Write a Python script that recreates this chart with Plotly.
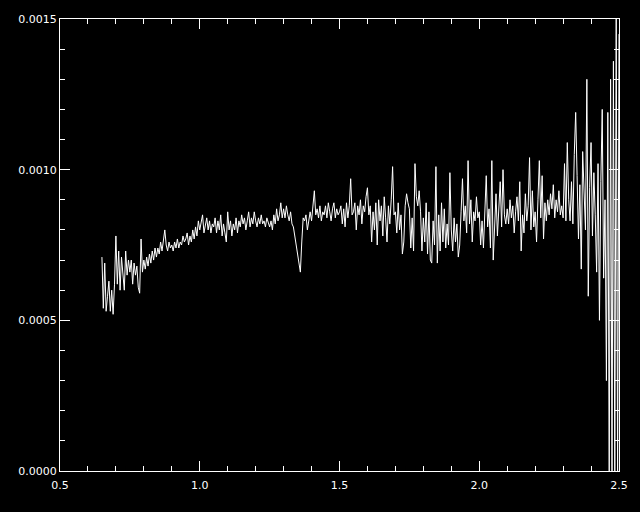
import plotly.graph_objects as go

# Wavelength grid (regularly sampled spectrum): start and step
WAVE_START = 0.65
WAVE_STEP = 0.005
FLUX_UNIT = 1e-4

# Flux values, in units of 1e-4
flux_e4 = [
    # 0.650-0.695
    7.1, 5.4, 6.9, 5.3, 5.8, 6.3, 5.3, 6.0, 5.2, 6.2,
    # 0.700
    7.8, 6.2, 7.3, 6.0, 7.1, 6.4, 6.0, 7.3, 6.5, 7.0,
    # 0.750
    6.6, 7.0, 6.2, 6.9, 6.5, 6.8, 6.1, 5.9, 7.7, 6.6,
    # 0.800
    7.0, 6.7, 7.1, 6.8, 7.2, 6.9, 7.3, 7.0, 7.4, 7.1,
    # 0.850
    7.4, 7.2, 7.6, 7.3, 7.7, 8.0, 7.5, 7.3, 7.6, 7.4,
    # 0.900
    7.5, 7.3, 7.6, 7.4, 7.7, 7.4, 7.6, 7.5, 7.8, 7.6,
    # 0.950
    7.7, 7.9, 7.5, 7.8, 7.6, 8.0, 7.7, 8.1, 7.8, 8.3,
    # 1.000
    8.0, 8.3, 8.5, 7.9, 8.2, 8.4, 8.0, 8.3, 7.9, 8.2,
    # 1.050
    8.1, 8.4, 7.9, 8.3, 8.0, 8.5, 7.8, 8.2, 7.9, 7.6,
    # 1.100
    8.6, 8.0, 8.3, 7.8, 8.2, 8.0, 8.4, 7.9, 8.3, 8.1,
    # 1.150
    8.5, 8.2, 8.4, 8.0, 8.3, 8.6, 8.1, 8.4, 8.2, 8.6,
    # 1.200
    8.3, 8.1, 8.4, 8.2, 8.5, 8.2, 8.3, 8.1, 8.4, 8.2,
    # 1.250
    8.1, 8.3, 8.0, 8.5, 8.2, 8.7, 8.3, 8.5, 8.9, 8.4,
    # 1.300
    8.7, 8.4, 8.8, 8.5, 8.3, 8.6, 8.2, 8.1, 7.8, 7.5,
    # 1.350
    7.3, 7.0, 6.6, 7.6, 8.4, 8.3, 8.5, 8.0, 8.4, 8.6,
    # 1.400
    8.3, 8.7, 9.3, 8.5, 8.7, 8.4, 8.8, 8.3, 8.6, 8.5,
    # 1.450
    8.8, 8.4, 8.9, 8.6, 8.3, 8.7, 8.9, 8.4, 8.7, 8.5,
    # 1.500
    8.6, 8.8, 8.2, 8.7, 8.1, 8.9, 8.4, 8.8, 9.7, 8.5,
    # 1.550
    8.6, 8.9, 8.0, 8.8, 8.5, 9.0, 8.2, 8.8, 8.6, 9.1,
    # 1.600
    9.4, 8.5, 8.8, 7.6, 8.6, 8.0, 8.9, 7.5, 9.0, 8.3,
    # 1.650
    8.8, 7.8, 9.1, 8.4, 7.6, 8.8, 8.2, 9.0, 10.1, 8.5,
    # 1.700
    8.6, 7.9, 8.9, 8.0, 8.5, 7.2, 7.6, 8.8, 9.2, 8.9,
    # 1.750
    8.7, 7.4, 8.4, 7.3, 10.2, 9.1, 8.8, 9.3, 8.6, 7.3,
    # 1.800
    8.4, 7.6, 8.9, 7.2, 8.6, 7.0, 6.9, 8.3, 7.5, 10.1,
    # 1.850
    6.9, 8.5, 7.3, 8.9, 7.6, 8.7, 7.4, 8.2, 7.5, 9.9,
    # 1.900
    8.0, 7.3, 8.4, 7.6, 8.2, 7.1, 7.5, 8.6, 9.7, 8.3,
    # 1.950
    8.8, 7.9, 10.3, 8.2, 9.0, 7.6, 8.6, 8.3, 9.1, 8.4,
    # 2.000
    8.6, 7.5, 8.3, 7.4, 9.0, 9.8, 8.1, 8.7, 7.4, 10.3,
    # 2.050
    7.0, 8.4, 9.2, 7.8, 8.9, 9.6, 8.1, 10.0, 8.5, 8.2,
    # 2.100
    8.7, 8.2, 9.0, 8.4, 8.8, 7.9, 8.6, 9.1, 8.3, 9.6,
    # 2.150
    7.3, 8.5, 7.9, 9.2, 8.3, 8.8, 10.4, 8.0, 9.3, 8.1,
    # 2.200
    8.6, 7.6, 9.0, 10.3, 8.4, 9.8, 7.7, 8.9, 8.3, 9.0,
    # 2.250
    8.5, 9.2, 8.7, 9.5, 8.4, 9.0, 8.6, 9.3, 8.5, 8.8,
    # 2.300
    8.4, 10.2, 8.3, 10.9, 9.0, 8.3, 9.6, 8.2, 10.5, 11.9,
    # 2.350
    9.8, 7.7, 9.5, 6.7, 10.6, 9.2, 8.0, 13.0, 5.8, 9.4,
    # 2.400
    10.9, 7.8, 9.9, 8.5, 6.6, 10.2, 5.0, 9.6, 12.0, 6.4,
    # 2.450-2.500
    9.0, 3.0, 11.9, -0.5, 13.0, -0.5, 13.6, -0.5, 15.5, -0.5, 14.5,
]
flux = [v * FLUX_UNIT for v in flux_e4]

x_tickvals = [0.5, 1.0, 1.5, 2.0, 2.5]
y_tickvals = [0.0, 0.0005, 0.0010, 0.0015]

FONT = dict(family="DejaVu Sans", size=11, color="white")

fig = go.Figure(
    go.Scatter(
        x0=WAVE_START, dx=WAVE_STEP, y=flux, mode="lines",
        line=dict(color="white", width=1), hoverinfo="skip",
    )
)

axis_common = dict(
    showline=True, linecolor="white", linewidth=1, mirror="ticks",
    ticks="inside", ticklen=10, tickwidth=1, tickcolor="white",
    showgrid=False, zeroline=False, tickfont=FONT,
)

fig.update_xaxes(
    range=[0.5, 2.5], tickvals=x_tickvals, tickformat=".1f",
    ticklabelstandoff=4,
    minor=dict(dtick=0.1, ticks="inside", ticklen=5, tickcolor="white",
               tickwidth=1, showgrid=False),
    **axis_common,
)
fig.update_yaxes(
    range=[0.0, 0.0015], tickvals=y_tickvals, tickformat=".4f",
    minor=dict(dtick=0.0001, ticks="inside", ticklen=5, tickcolor="white",
               tickwidth=1, showgrid=False),
    **axis_common,
)

fig.update_layout(
    width=640, height=512,
    paper_bgcolor="black", plot_bgcolor="black",
    margin=dict(l=60, r=18, t=19, b=41),
    showlegend=False,
)

fig.write_html(
    "out.html",
    config={"displayModeBar": False},
    post_script="document.body.style.margin='0';document.body.style.background='black';",
)
